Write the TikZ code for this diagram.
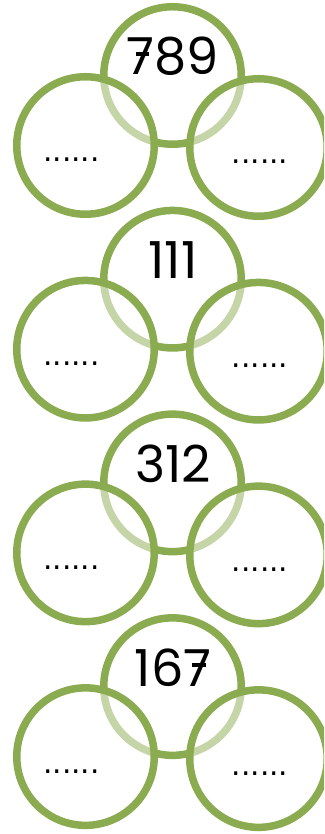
\documentclass[tikz,border=0pt]{standalone}
\usepackage{fontspec}
\setmainfont{Poppins}
\newfontfamily\dotfont{DejaVu Sans}
\definecolor{leaf}{RGB}{139,171,80}
\newcommand\crossedseven{\rlap{7}\rlap{\hspace{0.17em}\rule[0.38em]{0.27em}{0.07em}}\phantom{7}}
\begin{document}
\begin{tikzpicture}[x=1pt,y=1pt]
\tikzset{
  ring/.style={circle, draw=leaf, line width=7.5pt, minimum size=137.5pt, inner sep=0pt},
  lowring/.style={ring, fill=white, fill opacity=0.5},
  num/.style={font=\fontsize{51}{51}\selectfont, anchor=base, inner sep=0pt},
  blank/.style={font=\dotfont\fontsize{29.6}{30}\selectfont, anchor=base, inner sep=0pt}
}
\useasboundingbox (0,0) rectangle (324,834);
\clip (0,0) rectangle (324,834);
\foreach \n [count=\i from 0] in {{\crossedseven89},111,312,{16\crossedseven}} {
  \pgfmathsetmacro\off{-203.7*\i}
  \begin{scope}[yshift=\off pt]
    \node[ring] (t\i) at (172.5,758.5) {};
    \node[lowring] (l\i) at (85.5,688.5) {};
    \node[lowring] (r\i) at (258.5,686.5) {};
    \node[num] (n\i) at (173,759) {\n};
    \node[blank] (a\i) at (71.5,672) {......};
    \node[blank] (b\i) at (260,670) {......};
  \end{scope}
}
\end{tikzpicture}
\end{document}
